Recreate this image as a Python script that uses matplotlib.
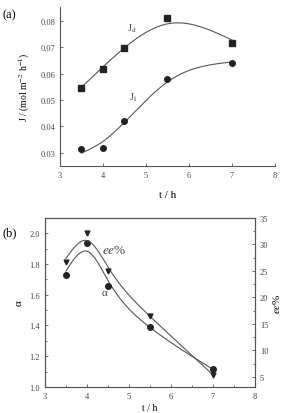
import numpy as np
import matplotlib.pyplot as plt
from matplotlib.ticker import MultipleLocator

plt.rcParams['font.family'] = ['Liberation Serif', 'DejaVu Serif']
plt.rcParams['mathtext.fontset'] = 'stix'
plt.rcParams['font.size'] = 6.5

##### data #####
t = [3.5, 4.0, 4.5, 5.5, 7.0]
J_d = [0.0545, 0.0617, 0.0698, 0.0812, 0.0715]
J_l = [0.0313, 0.0316, 0.0419, 0.0580, 0.0640]
alpha = [1.73, 1.94, 1.66, 1.39, 1.115]
ee = [26.7, 32.2, 24.9, 16.5, 5.4]

gray = "#555555"


def smooth_curve(x, y, lam):
    # penalised least squares (smoothing spline like) on a fine grid
    step = 0.025
    xs = np.arange(min(x), max(x) + step / 2, step)
    n = len(xs)
    W = np.zeros((n, n))
    b = np.zeros(n)
    for xi, yi in zip(x, y):
        k = int(round((xi - xs[0]) / step))
        W[k, k] += 1.0
        b[k] += yi
    D = np.diff(np.eye(n), 2, axis=0)
    f = np.linalg.solve(W + lam * D.T @ D, b)
    return xs, f


fig = plt.figure(figsize=(2.94, 4.14), dpi=100)

##### panel (a) #####
ax1 = fig.add_axes([0.204, 0.597, 0.731, 0.384])
for spine in ["top", "right"]:
    ax1.spines[spine].set_visible(False)
for spine in ["left", "bottom"]:
    ax1.spines[spine].set_color(gray)
    ax1.spines[spine].set_linewidth(0.8)

xs, ys = smooth_curve(t, J_d, 8e3)
ax1.plot(xs, ys, color=gray, lw=0.8)
xs, ys = smooth_curve(t, J_l, 3e3)
ax1.plot(xs, ys, color=gray, lw=0.8)
ax1.plot(t, J_d, "s", color="#222222", ms=4)
ax1.plot(t, J_l, "o", color="#222222", ms=4)

ax1.set_xlim(3, 8)
ax1.set_ylim(0.025, 0.0853)
ax1.xaxis.set_major_locator(MultipleLocator(1))
ax1.tick_params(direction="in", length=2.5, width=0.6, color=gray, labelsize=6, labelcolor="#444444")
ax1.set_yticks([0.03, 0.04, 0.05, 0.06, 0.07, 0.08])
ax1.set_xlabel("t / h", fontsize=8, labelpad=8)
ax1.set_ylabel(r"J / (mol m$^{-2}$ h$^{-1}$)", fontsize=7, labelpad=6)
ax1.text(4.55, 0.0762, r"J$_\mathrm{d}$", fontsize=7.5, color="#444444")
ax1.text(4.6, 0.0502, r"J$_\mathrm{l}$", fontsize=7.5, color="#444444")
fig.text(0.01, 0.955, "(a)", fontsize=9)

##### panel (b) #####
ax2 = fig.add_axes([0.153, 0.063, 0.714, 0.408])
for spine in ax2.spines.values():
    spine.set_color(gray)
    spine.set_linewidth(0.8)
ax3 = ax2.twinx()
for spine in ax3.spines.values():
    spine.set_color(gray)
    spine.set_linewidth(0.8)

xs, ys = smooth_curve(t, alpha, 400)
ax2.plot(xs, ys, color=gray, lw=0.8)
ax2.plot(t, alpha, "o", color="#222222", ms=4)
xs, ys = smooth_curve(t, ee, 400)
ax3.plot(xs, ys, color=gray, lw=0.8)
ax3.plot(t, ee, "v", color="#222222", ms=3.5)

ax2.set_xlim(3, 8)
ax2.set_ylim(1.0, 2.1)
ax3.set_ylim(3.1, 35)
ax2.xaxis.set_major_locator(MultipleLocator(1))
ax2.xaxis.set_minor_locator(MultipleLocator(0.5))
ax2.yaxis.set_minor_locator(MultipleLocator(0.1))
ax3.yaxis.set_major_locator(MultipleLocator(5))
ax3.yaxis.set_minor_locator(MultipleLocator(2.5))
for a in (ax2, ax3):
    a.tick_params(which="both", direction="in", width=0.6, color=gray, labelsize=6, labelcolor="#444444")
    a.tick_params(which="major", length=2.5)
    a.tick_params(which="minor", length=1.5)
ax2.set_yticks([1.0, 1.2, 1.4, 1.6, 1.8, 2.0])
ax2.set_yticklabels(["1.0", "1.2", "1.4", "1.6", "1.8", "2.0"])
ax2.set_xlabel("t / h", fontsize=7, labelpad=2)
ax2.set_ylabel("α", fontsize=8)
ax3.set_ylabel(r"$ee$%", fontsize=8, labelpad=2)
ax2.text(4.36, 1.87, r"$ee$%", fontsize=9.5, color="#444444")
ax2.text(4.36, 1.60, "α", fontsize=8, color="#444444")
fig.text(0.01, 0.43, "(b)", fontsize=9)

plt.savefig("out.png", dpi=100)
